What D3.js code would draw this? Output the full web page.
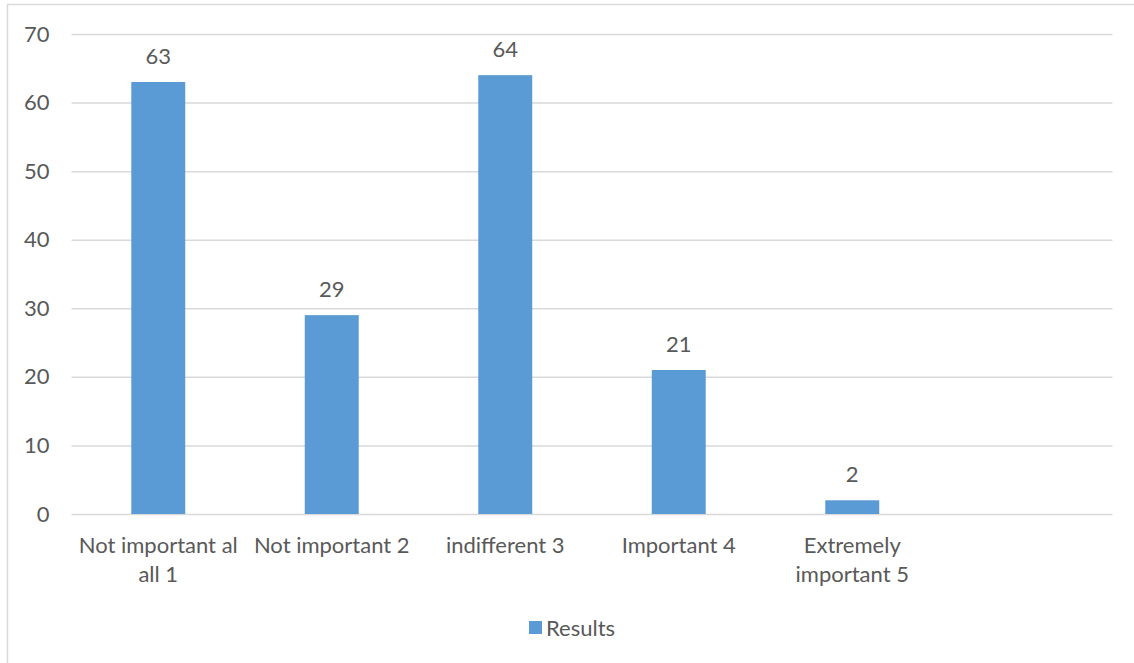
<!DOCTYPE html>
<html>
<head>
<meta charset="utf-8">
<script src="https://cdn.jsdelivr.net/npm/d3@7"></script>
<style>
  html, body { margin: 0; padding: 0; background: #fff; }
  svg { display: block; }
  text { font-family: Lato, "Liberation Sans", sans-serif; fill: #595959; }
</style>
</head>
<body>
<svg id="chart" width="1134" height="663"></svg>
<script>
// Survey answers (line breaks mark how the axis labels wrap)
const categories = [
  "Not important al\nall 1",
  "Not important 2",
  "indifferent 3",
  "Important 4",
  "Extremely\nimportant 5",
  ""
];
const results = [63, 29, 64, 21, 2, null];
const yTicks = [0, 10, 20, 30, 40, 50, 60, 70];
const seriesName = "Results";

const W = 1134, H = 663;
const plot = { left: 71.5, right: 1112.5, top: 34, bottom: 514 };
const barColor = "#5b9bd5";
const gridColor = "#d9d9d9";
const fontSize = 22;

const svg = d3.select("#chart");

svg.append("rect").attr("width", W).attr("height", H).attr("fill", "#fff");

// chart frame (continues past the right and bottom edges)
svg.append("rect")
  .attr("x", 7.5).attr("y", 4.5)
  .attr("width", W + 20).attr("height", H + 20)
  .attr("fill", "none").attr("stroke", gridColor).attr("stroke-width", 1.5);

const x = d3.scaleBand()
  .domain(categories.map((c, i) => i))
  .range([plot.left, plot.right])
  .paddingInner(0.689)
  .paddingOuter(0.3445);

const y = d3.scaleLinear().domain([0, 70]).range([plot.bottom, plot.top]);

// horizontal gridlines and value labels
const yAxis = svg.append("g")
  .attr("transform", `translate(${plot.left},0)`)
  .call(d3.axisLeft(y).tickValues(yTicks)
    .tickSize(-(plot.right - plot.left)).tickPadding(22));
yAxis.select(".domain").remove();
yAxis.selectAll(".tick line").attr("stroke", gridColor).attr("stroke-width", 1.5);
yAxis.selectAll(".tick text")
  .attr("font-size", fontSize)
  .style("font-family", 'Lato, "Liberation Sans", sans-serif')
  .attr("fill", "#595959");

// bars
const data = categories.map((c, i) => ({ i, v: results[i] })).filter(d => d.v != null);

svg.append("g").selectAll("rect")
  .data(data).join("rect")
  .attr("x", d => x(d.i))
  .attr("y", d => y(d.v))
  .attr("width", x.bandwidth())
  .attr("height", d => y(0) - y(d.v))
  .attr("fill", barColor);

// value labels above bars
svg.append("g").selectAll("text")
  .data(data).join("text")
  .attr("x", d => x(d.i) + x.bandwidth() / 2)
  .attr("y", d => y(d.v) - 18)
  .attr("text-anchor", "middle")
  .attr("font-size", fontSize)
  .text(d => d.v);

// category labels, wrapped onto separate lines
const catG = svg.append("g");
categories.forEach((c, i) => {
  const t = catG.append("text")
    .attr("text-anchor", "middle")
    .attr("font-size", fontSize);
  c.split("\n").forEach((line, k) => {
    t.append("tspan")
      .attr("x", x(i) + x.bandwidth() / 2)
      .attr("y", 553 + k * 29)
      .text(line);
  });
});

// legend
const legend = svg.append("g");
legend.append("rect")
  .attr("x", 529).attr("y", 621).attr("width", 13).attr("height", 13)
  .attr("fill", barColor);
legend.append("text")
  .attr("x", 546).attr("y", 636)
  .attr("font-size", fontSize)
  .text(seriesName);
</script>
</body>
</html>
